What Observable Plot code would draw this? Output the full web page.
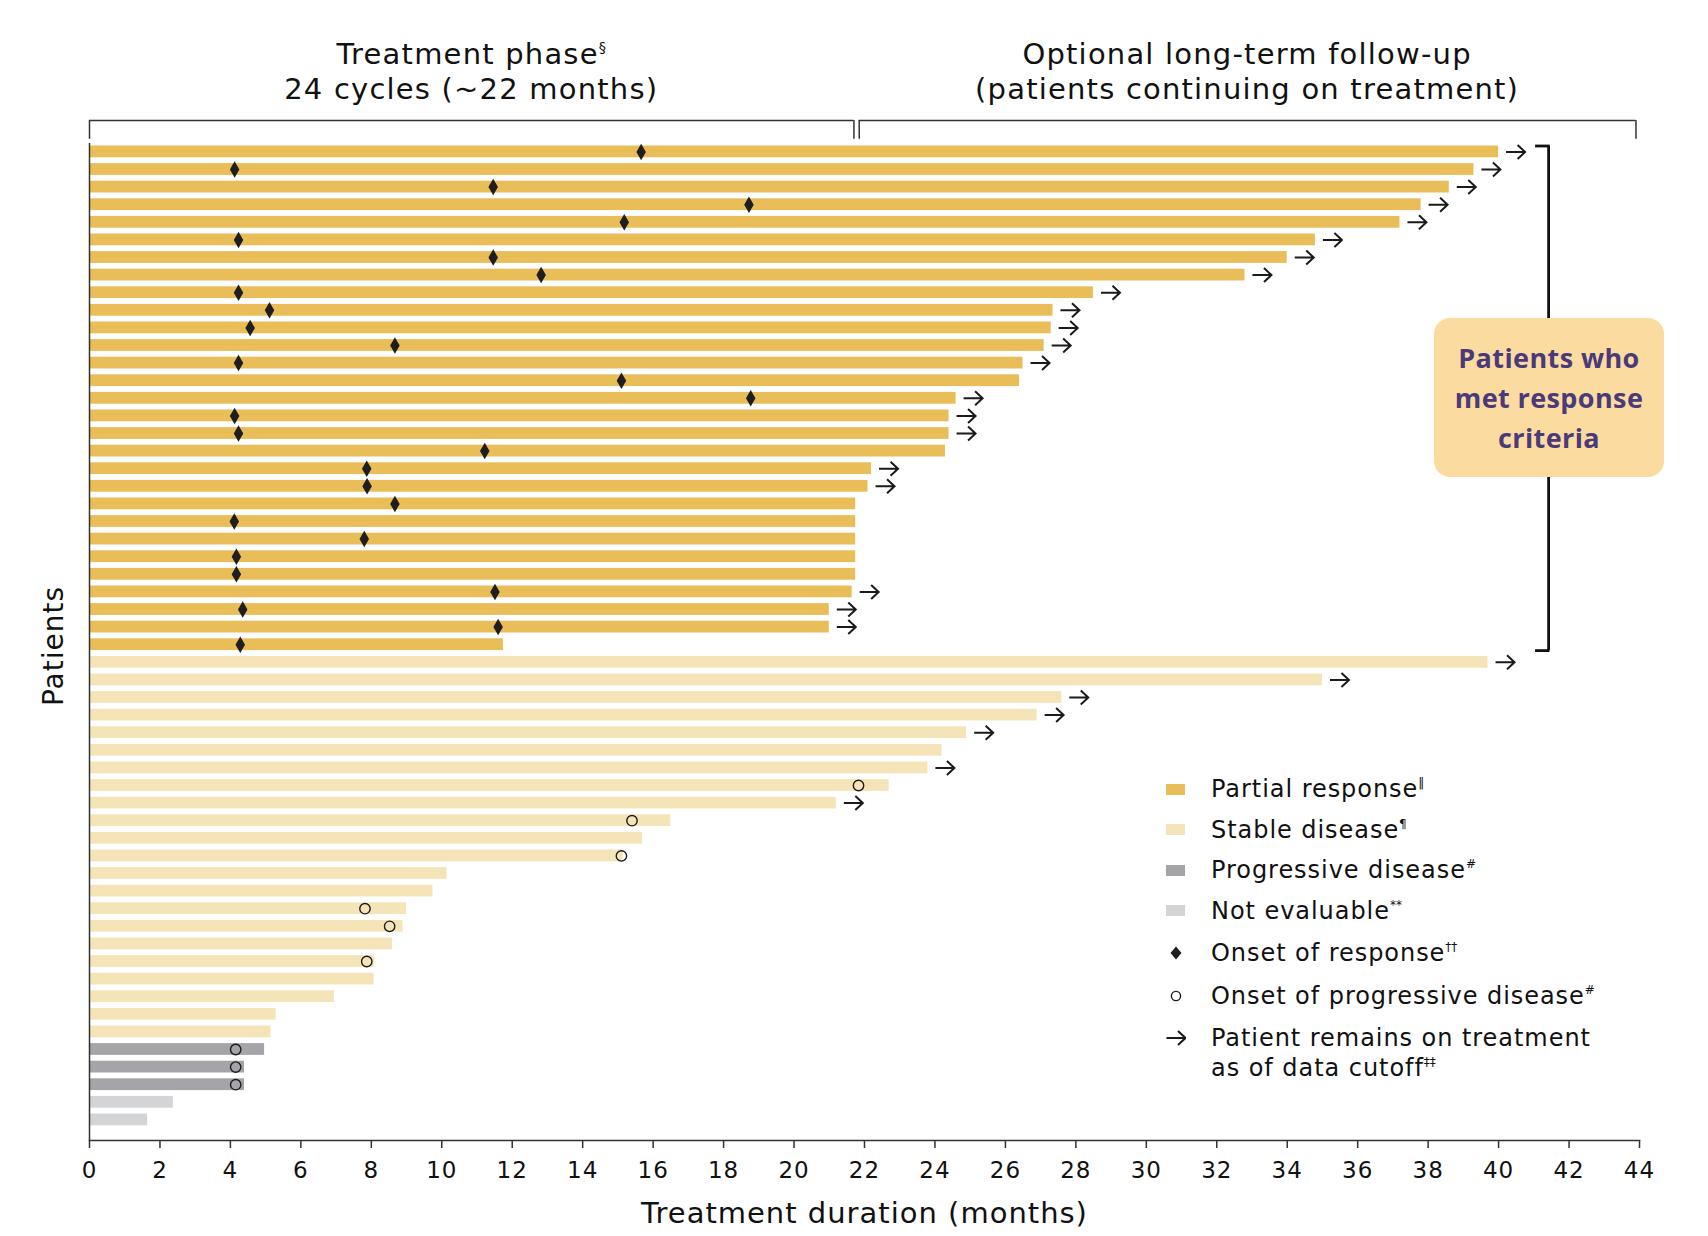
<!DOCTYPE html>
<html>
<head>
<meta charset="utf-8">
<script src="https://cdn.jsdelivr.net/npm/d3@7"></script>
<script src="https://cdn.jsdelivr.net/npm/@observablehq/plot@0.6"></script>
<style>
  body { margin: 0; background: #fff; font-family: "DejaVu Sans", sans-serif; color: #111; }
  #wrap { position: relative; width: 1708px; height: 1236px; overflow: hidden; }
  #wrap svg { display: block; }
  sup { font-size: 0.5em; vertical-align: 0.85em; line-height: 0; letter-spacing: 0; }
  .phase-title { position: absolute; top: 37px; transform: translateX(-50%); white-space: nowrap;
    text-align: center; font-size: 29px; letter-spacing: 1.2px; line-height: 35px; }
  .legend { position: absolute; left: 1166px; top: 769px; font-size: 24px; letter-spacing: 0.95px; }
  .item { display: flex; align-items: center; height: 40.5px; white-space: nowrap; }
  .item.marker { height: 43px; }
  .item.two { align-items: flex-start; line-height: 30px; margin-top: 6px; height: auto; }
  .key { width: 45px; flex: none; display: flex; align-items: center; }
  .item.two .key { height: 30px; }
  .swatch { display: block; width: 19px; height: 11px; }
  .response-box { position: absolute; left: 1434px; top: 318px; width: 230px; height: 159px;
    border-radius: 16px; background: #FCDBA0; color: #4A3A7A; font-family: "Open Sans", sans-serif;
    font-weight: 700; font-size: 27px; letter-spacing: 0.4px;
    line-height: 40px; display: flex; align-items: center; justify-content: center; text-align: center; }
</style>
</head>
<body>
<div id="wrap"></div>
<script>
// Treatment duration (months) per patient, grouped by best overall response
const prDuration = [40.0, 39.3, 38.6, 37.8, 37.2, 34.8, 34.0, 32.8, 28.5, 27.35, 27.3, 27.1, 26.5, 26.4,
  24.6, 24.4, 24.4, 24.3, 22.2, 22.1, 21.75, 21.75, 21.75, 21.75, 21.75, 21.65, 21.0, 21.0, 11.75];
const prOnset = [15.66, 4.12, 11.46, 18.72, 15.18, 4.23, 11.46, 12.82, 4.23, 5.11, 4.56, 8.67, 4.23, 15.1,
  18.77, 4.12, 4.23, 11.22, 7.87, 7.88, 8.67, 4.11, 7.8, 4.17, 4.17, 11.51, 4.35, 11.6, 4.28];
const prOngoing = [1, 1, 1, 1, 1, 1, 1, 1, 1, 1, 1, 1, 1, 0, 1, 1, 1, 0, 1, 1, 0, 0, 0, 0, 0, 1, 1, 1, 0];

const sdDuration = [39.7, 35.0, 27.6, 26.9, 24.9, 24.2, 23.8, 22.7, 21.2, 16.5, 15.7, 15.15, 10.15, 9.75,
  9.0, 8.9, 8.6, 8.1, 8.08, 6.95, 5.3, 5.15];
const sdProgression = [null, null, null, null, null, null, null, 21.83, null, 15.4, null, 15.1, null, null,
  7.82, 8.52, null, 7.87, null, null, null, null];
const sdOngoing = [1, 1, 1, 1, 1, 0, 1, 0, 1, 0, 0, 0, 0, 0, 0, 0, 0, 0, 0, 0, 0, 0];

const pdDuration = [4.97, 4.4, 4.4];
const pdProgression = [4.15, 4.15, 4.15];

const neDuration = [2.38, 1.65];

const statuses = ["Partial response", "Stable disease", "Progressive disease", "Not evaluable"];
const statusNotes = ["‖", "¶", "#", "**"];
const statusColors = ["#E9BD58", "#F6E4B9", "#A5A5A9", "#D3D4D6"];

const xTicks = [0, 2, 4, 6, 8, 10, 12, 14, 16, 18, 20, 22, 24, 26, 28, 30, 32, 34, 36, 38, 40, 42, 44];

const phaseTitles = ["Treatment phase<sup>§</sup><br>24 cycles (~22 months)",
  "Optional long-term follow-up<br>(patients continuing on treatment)"];
const phaseStart = [0, 21.85];
const phaseEnd = [21.7, 43.9];
const responseBracketX = 41.42;

// One row per patient, top to bottom
const patients = [];
function addGroup(status, durations, onset, progression, ongoing) {
  durations.forEach((duration, i) => {
    patients.push({
      id: patients.length + 1,
      status,
      duration,
      onset: onset ? onset[i] : null,
      progression: progression ? progression[i] : null,
      ongoing: ongoing ? !!ongoing[i] : false
    });
  });
}
addGroup(statuses[0], prDuration, prOnset, null, prOngoing);
addGroup(statuses[1], sdDuration, null, sdProgression, sdOngoing);
addGroup(statuses[2], pdDuration, null, pdProgression, null);
addGroup(statuses[3], neDuration, null, null, null);

const phases = phaseStart.map((start, i) => ({start, end: phaseEnd[i], mid: (start + phaseEnd[i]) / 2}));
const firstId = patients[0].id;
const responders = patients.filter((d) => d.status === statuses[0]);
const halfBar = 5.9; // half of the bar thickness, for the bracket end caps

// Open arrow glyph drawn from the dot's anchor to the right
const arrowGlyph = {
  draw(context) {
    context.moveTo(0, 0);
    context.lineTo(19, 0);
    context.moveTo(11.5, -7);
    context.lineTo(19, 0);
    context.lineTo(11.5, 7);
  }
};

const capStyle = {x1: () => responseBracketX - 0.37, x2: () => responseBracketX + 0.04, stroke: "#111", strokeWidth: 2.8};

const chart = Plot.plot({
  width: 1708,
  height: 1236,
  marginLeft: 89,
  marginRight: 69,
  marginTop: 143,
  marginBottom: 96,
  style: {fontFamily: "'DejaVu Sans', sans-serif", color: "#111", background: "#fff", letterSpacing: "1px"},
  x: {domain: [0, 44]},
  y: {domain: patients.map((d) => d.id), range: [142.6, 1128.2], paddingInner: 0.33, paddingOuter: 0.165, axis: null},
  color: {domain: statuses, range: statusColors},
  marks: [
    Plot.barX(patients, {x: "duration", y: "id", fill: "status"}),
    Plot.dot(patients.filter((d) => d.onset != null), {
      x: "onset", y: "id", symbol: "diamond", r: 5, fill: "#1e1e1e"
    }),
    Plot.dot(patients.filter((d) => d.progression != null), {
      x: "progression", y: "id", r: 5.2, fill: "none", stroke: "#1a1a1a", strokeWidth: 1.4
    }),
    Plot.dot(patients.filter((d) => d.ongoing), {
      x: "duration", y: "id", symbol: arrowGlyph, r: 4, dx: 7.5,
      fill: "none", stroke: "#1a1a1a", strokeWidth: 2
    }),
    // axes
    Plot.ruleX([0], {stroke: "#333", strokeWidth: 1.5}),
    Plot.frame({anchor: "bottom", stroke: "#333", strokeWidth: 1.5}),
    Plot.axisX({ticks: xTicks, tickSize: 8, tickPadding: 13, fontSize: 23, label: null,
      stroke: "#333", strokeWidth: 1.5, fill: "#111"}),
    Plot.text(["Treatment duration (months)"], {frameAnchor: "bottom", lineAnchor: "bottom", dy: 82, fontSize: 29, fill: "#111"}),
    Plot.text(["Patients"], {frameAnchor: "left", textAnchor: "middle", rotate: -90, dx: -35, dy: 4, fontSize: 28, fill: "#111"}),
    // phase brackets above the bars
    Plot.ruleY(phases, {y: () => firstId, x1: "start", x2: "end", dy: -31.5, stroke: "#333", strokeWidth: 1.5}),
    Plot.ruleX(phases.flatMap((p) => [p.start, p.end]), {
      x: (d) => d, y1: () => firstId, y2: () => firstId, dy: -25.5, insetBottom: -7, stroke: "#333", strokeWidth: 1.5
    }),
    // bracket grouping the responders
    Plot.ruleX([responseBracketX], {
      y1: () => responders[0].id, y2: () => responders[responders.length - 1].id, stroke: "#111", strokeWidth: 2.8
    }),
    Plot.ruleY([responders[0].id], {y: (d) => d, dy: -halfBar, ...capStyle}),
    Plot.ruleY([responders[responders.length - 1].id], {y: (d) => d, dy: halfBar, ...capStyle})
  ]
});

const wrap = d3.select("#wrap");
wrap.node().appendChild(chart);

// Phase titles, centred over their brackets via the x scale
const xScale = chart.scale("x");
phases.forEach((p, i) => {
  wrap.append("div").attr("class", "phase-title")
    .style("left", `${xScale.apply(p.mid)}px`)
    .html(phaseTitles[i]);
});

wrap.append("div").attr("class", "response-box").html("Patients who<br>met response<br>criteria");

// Legend
const legend = wrap.append("div").attr("class", "legend");
statuses.forEach((s, i) => {
  const row = legend.append("div").attr("class", "item");
  row.append("span").attr("class", "key").append("span").attr("class", "swatch").style("background", statusColors[i]);
  row.append("span").html(`${s}<sup>${statusNotes[i]}</sup>`);
});
const markerItems = [
  {svg: '<path d="M10,3.5 L15.5,10 L10,16.5 L4.5,10 Z" fill="#1e1e1e"/>', text: "Onset of response<sup>††</sup>", cls: "item marker"},
  {svg: '<circle cx="10" cy="10" r="4.6" fill="#fff" stroke="#1a1a1a" stroke-width="1.4"/>', text: "Onset of progressive disease<sup>#</sup>", cls: "item marker"},
  {svg: '<path d="M0.5,10 L19.5,10 M12,3 L19.5,10 L12,17" fill="none" stroke="#1a1a1a" stroke-width="2"/>',
   text: "Patient remains on treatment<br>as of data cutoff<sup>‡‡</sup>", cls: "item two"}
];
markerItems.forEach((m) => {
  const row = legend.append("div").attr("class", m.cls);
  row.append("span").attr("class", "key").html(`<svg width="20" height="20" viewBox="0 0 20 20">${m.svg}</svg>`);
  row.append("span").html(m.text);
});
</script>
</body>
</html>
